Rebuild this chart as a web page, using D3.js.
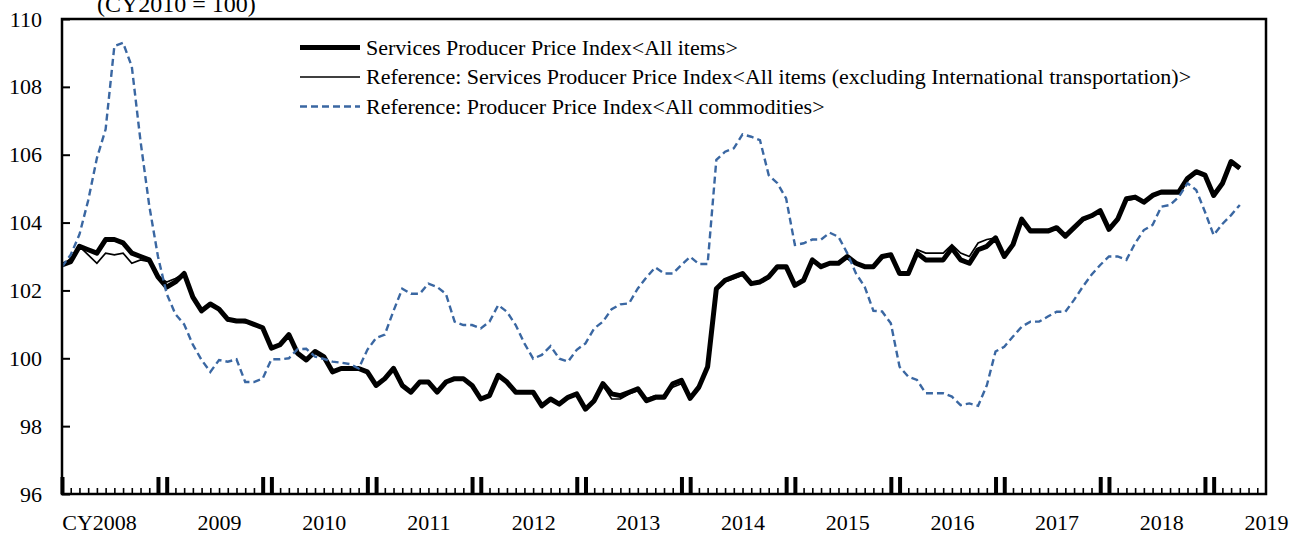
<!DOCTYPE html>
<html>
<head>
<meta charset="utf-8">
<script src="https://cdn.jsdelivr.net/npm/d3@7"></script>
<style>
  body { margin: 0; background: #fff; }
  svg { display: block; }
  text { font-family: "Liberation Serif", "Times New Roman", serif; fill: #000; }
</style>
</head>
<body>
<svg id="chart" width="1298" height="533"></svg>
<script>
// monthly series, Jan 2008 .. Apr 2019 (CY2010 = 100)
var sppiAll = [
  102.75, 102.85, 103.3, 103.2, 103.1, 103.5, 103.5, 103.4, 103.1, 103.0, 102.9, 102.4,
  102.1, 102.25, 102.5, 101.8, 101.4, 101.6, 101.45, 101.15, 101.1, 101.1, 101.0, 100.9,
  100.3, 100.4, 100.7, 100.15, 99.95, 100.2, 100.05, 99.6, 99.7, 99.7, 99.7, 99.6,
  99.2, 99.4, 99.7, 99.2, 99.0, 99.3, 99.3, 99.0, 99.3, 99.4, 99.4, 99.2,
  98.8, 98.9, 99.5, 99.3, 99.0, 99.0, 99.0, 98.6, 98.8, 98.65, 98.85, 98.95,
  98.5, 98.75, 99.25, 98.95, 98.9, 99.0, 99.1, 98.75, 98.85, 98.85, 99.25, 99.35,
  98.82, 99.15, 99.75, 102.05, 102.3, 102.4, 102.5, 102.2, 102.25, 102.4, 102.7, 102.7,
  102.15, 102.3, 102.9, 102.7, 102.8, 102.8, 103.0, 102.8, 102.7, 102.7, 103.0, 103.05,
  102.5, 102.5, 103.1, 102.9, 102.9, 102.9, 103.25, 102.9, 102.8, 103.2, 103.3, 103.55,
  103.0, 103.35, 104.1, 103.75, 103.75, 103.75, 103.85, 103.6, 103.85, 104.1, 104.2, 104.35,
  103.8, 104.1, 104.7, 104.75, 104.6, 104.8, 104.9, 104.9, 104.9, 105.3, 105.5, 105.4,
  104.8, 105.15, 105.8, 105.6
];
var sppiExIntl = [
  102.7, 102.95, 103.3, 103.05, 102.8, 103.1, 103.05, 103.1, 102.8, 102.9, 102.85, 102.4,
  102.25, 102.35, 102.5, 101.8, 101.4, 101.6, 101.45, 101.1, 101.1, 101.05, 101.0, 100.9,
  100.3, 100.4, 100.7, 100.15, 99.95, 100.2, 100.05, 99.6, 99.7, 99.7, 99.7, 99.6,
  99.2, 99.4, 99.7, 99.2, 99.0, 99.3, 99.3, 99.0, 99.3, 99.4, 99.4, 99.2,
  98.8, 98.9, 99.5, 99.3, 99.0, 99.0, 99.0, 98.6, 98.8, 98.65, 98.85, 98.95,
  98.5, 98.75, 99.2, 98.8, 98.8, 98.95, 99.05, 98.8, 98.9, 98.9, 99.15, 99.25,
  98.8, 99.1, 99.7, 102.0, 102.25, 102.35, 102.45, 102.2, 102.25, 102.35, 102.65, 102.65,
  102.15, 102.3, 102.85, 102.7, 102.8, 102.8, 102.95, 102.8, 102.7, 102.7, 102.95, 103.05,
  102.55, 102.55, 103.2, 103.1, 103.1, 103.1, 103.35, 103.1, 103.0, 103.4, 103.5, 103.55,
  103.05, 103.35, 104.05, 103.8, 103.8, 103.8, 103.85, 103.6, 103.85, 104.05, 104.2, 104.35,
  103.8, 104.05, 104.65, 104.7, 104.6, 104.8, 104.85, 104.85, 104.85, 105.25, 105.45, 105.4,
  104.8, 105.15, 105.75, 105.6
];
var ppiAll = [
  102.7, 103.05, 103.65, 104.65, 105.9, 106.75, 109.2, 109.3, 108.6, 106.4, 104.5, 103.0,
  101.9, 101.3, 101.0, 100.4, 99.95, 99.6, 99.95, 99.9, 99.97, 99.3, 99.3, 99.4,
  99.97, 99.97, 100.0, 100.27, 100.28, 100.05, 99.98, 99.9, 99.87, 99.83, 99.7, 100.25,
  100.6, 100.7, 101.4, 102.05, 101.9, 101.9, 102.2, 102.1, 101.9, 101.08, 100.98, 100.98,
  100.88, 101.08, 101.57, 101.37, 100.98, 100.44, 99.99, 100.1, 100.36, 99.99, 99.9, 100.25,
  100.44, 100.88, 101.08, 101.45, 101.59, 101.62, 102.06, 102.39, 102.68, 102.5, 102.5, 102.75,
  102.99, 102.78, 102.78, 105.85, 106.09, 106.19, 106.6, 106.53, 106.43, 105.4, 105.16, 104.71,
  103.34, 103.39, 103.5, 103.5, 103.7, 103.58, 103.1, 102.5, 102.11, 101.4, 101.38, 101.03,
  99.75, 99.46, 99.36, 98.97, 98.97, 98.97, 98.87, 98.62, 98.67, 98.6, 99.2, 100.2,
  100.34, 100.64, 100.93, 101.08, 101.08, 101.23, 101.37, 101.37, 101.72, 102.11, 102.46, 102.75,
  103.0, 103.0, 102.9, 103.39, 103.78, 103.93, 104.47, 104.52, 104.76, 105.16, 104.96, 104.32,
  103.63, 103.96, 104.22, 104.52
];

var yearLabels = ['CY2008', '2009', '2010', '2011', '2012', '2013', '2014', '2015', '2016', '2017', '2018', '2019'];
var yTicks = [96, 98, 100, 102, 104, 106, 108, 110];
var legendNames = [
  'Services Producer Price Index<All items>',
  'Reference: Services Producer Price Index<All items (excluding International transportation)>',
  'Reference: Producer Price Index<All commodities>'
];

var svg = d3.select('#chart');
var plotL = 62, plotR = 1266, plotT = 19, plotB = 494;
var nMonths = 138;  // axis runs Jan 2008 .. Jul 2019

var xScale = d3.scaleLinear().domain([0, nMonths]).range([plotL, plotR]);
var yScale = d3.scaleLinear().domain([96, 110]).range([plotB, plotT]);

//month ticks along the bottom, thick pair around each new year
var xAxis = d3.axisBottom(xScale)
  .tickValues(d3.range(0, nMonths))
  .tickSizeInner(-6).tickSizeOuter(0)
  .tickFormat('');
var gx = svg.append('g').attr('transform', 'translate(0,' + plotB + ')').call(xAxis);
gx.select('.domain').remove();
gx.selectAll('.tick line')
  .attr('stroke', '#000')
  .attr('y2', function(d){ return (d % 12 == 0 || d % 12 == 11) ? -17 : -6; })
  .attr('stroke-width', function(d){ return (d % 12 == 0 || d % 12 == 11) ? 4 : 1.6; });

//year labels, centred on July
var labelPos = yearLabels.map(function(d, i){ return i * 12 + 6; });
var xLab = d3.axisBottom(xScale).tickValues(labelPos).tickSize(0)
  .tickFormat(function(d, i){ return yearLabels[i]; });
var gl = svg.append('g').attr('transform', 'translate(0,' + plotB + ')').call(xLab);
gl.select('.domain').remove();
gl.selectAll('text')
  .attr('y', 36).attr('dy', null)
  .style('font-size', '22px')
  .attr('font-family', null);
gl.selectAll('text').filter(function(d, i){ return i == 0; })
  .attr('text-anchor', 'end').attr('dx', 22);

//y axis, ticks pointing inward
var yAxis = d3.axisLeft(yScale).tickValues(yTicks).tickSizeInner(-8).tickSizeOuter(0).tickPadding(20);
var gy = svg.append('g').attr('transform', 'translate(' + plotL + ',0)').call(yAxis);
gy.select('.domain').remove();
gy.selectAll('.tick line').attr('stroke', '#000').attr('stroke-width', 2);
gy.selectAll('text').style('font-size', '22px').attr('font-family', null);

//lines
var line = d3.line()
  .x(function(d, i){ return xScale(i); })
  .y(function(d){ return yScale(d); });

svg.append('path').datum(sppiAll)
  .attr('d', line).attr('fill', 'none')
  .attr('stroke', '#000').attr('stroke-width', 5).attr('stroke-linejoin', 'round');
svg.append('path').datum(sppiExIntl)
  .attr('d', line).attr('fill', 'none')
  .attr('stroke', '#000').attr('stroke-width', 1.7);
svg.append('path').datum(ppiAll)
  .attr('d', line).attr('fill', 'none')
  .attr('stroke', '#3a67a2').attr('stroke-width', 2.4).attr('stroke-dasharray', '7,4');

//frame
svg.append('rect')
  .attr('x', plotL).attr('y', plotT)
  .attr('width', plotR - plotL).attr('height', plotB - plotT)
  .attr('fill', 'none').attr('stroke', '#000').attr('stroke-width', 2.5);

//unit note
svg.append('text').attr('x', 97).attr('y', 12).style('font-size', '24px').text('(CY2010 = 100)');

//legend
var legStyles = [
  {w: 5, dash: null, c: '#000'},
  {w: 1.7, dash: null, c: '#000'},
  {w: 2.4, dash: '7,4', c: '#3a67a2'}
];
var legY = [47.5, 77, 106.5];
var leg = svg.append('g').selectAll('g').data(legendNames).enter().append('g')
  .attr('transform', function(d, i){ return 'translate(300,' + legY[i] + ')'; });
leg.append('line')
  .attr('x1', 0).attr('x2', 60).attr('y1', 0).attr('y2', 0)
  .attr('stroke', function(d, i){ return legStyles[i].c; })
  .attr('stroke-width', function(d, i){ return legStyles[i].w; })
  .attr('stroke-dasharray', function(d, i){ return legStyles[i].dash; });
leg.append('text')
  .attr('x', 66).attr('y', 7)
  .style('font-size', '22px')
  .text(function(d){ return d; });
</script>
</body>
</html>
